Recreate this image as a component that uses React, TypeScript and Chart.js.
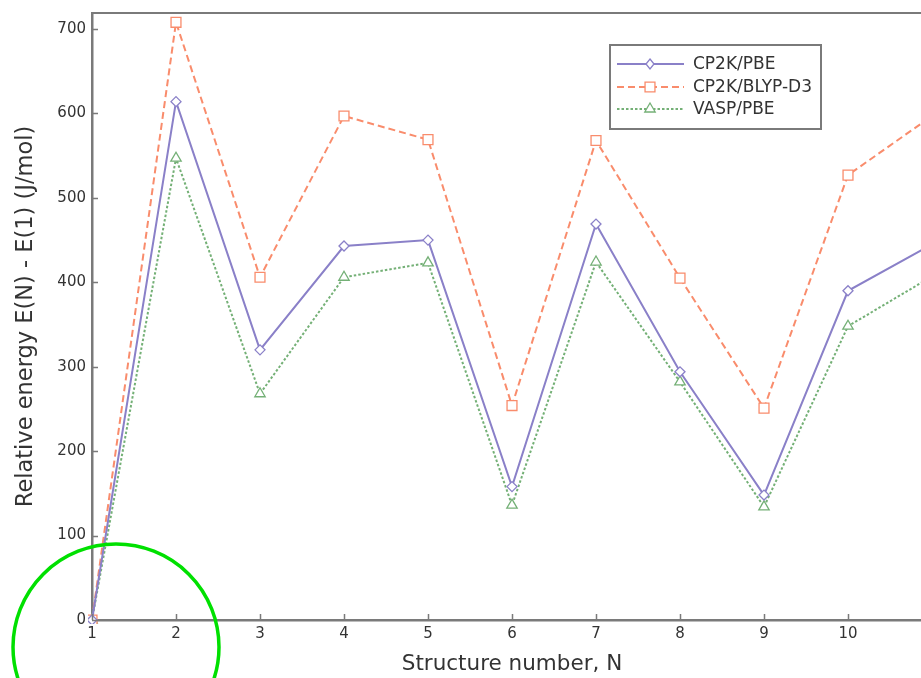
import React, { useEffect, useRef } from "react";
import { Chart, registerables } from "chart.js";
Chart.register(...registerables);

const structures = [1, 2, 3, 4, 5, 6, 7, 8, 9, 10, 11];
const cp2kPbe = [0, 614, 320, 443, 450, 158, 469, 294, 148, 390, 445];
const cp2kBlyp = [0, 708, 406, 597, 569, 254, 568, 405, 251, 527, 597];
const vaspPbe = [0, 547, 268, 406, 423, 136, 424, 282, 134, 348, 407];
const yTicks = [0, 100, 200, 300, 400, 500, 600, 700];
const xTicks = [1, 2, 3, 4, 5, 6, 7, 8, 9, 10, 11];
const seriesNames = ["CP2K/PBE", "CP2K/BLYP-D3", "VASP/PBE"];

const PURPLE = "#8a80c8";
const ORANGE = "#f98c6c";
const GREEN = "#74b076";
const AXIS = "#7a7a7a";
const TEXT = "#333333";
const FONT = "DejaVu Sans";
const SHIFT = 2; // canvas is moved up by this many pixels

const styles = [
  { color: PURPLE, dash: [] as number[], marker: "rectRot", radius: 5 },
  { color: ORANGE, dash: [7, 4], marker: "rect", radius: 7 },
  { color: GREEN, dash: [2.5, 2], marker: "triangle", radius: 6 },
];

function drawMarker(ctx: CanvasRenderingContext2D, kind: string, x: number, y: number, r: number, color: string) {
  ctx.save();
  ctx.setLineDash([]);
  ctx.fillStyle = "#fff";
  ctx.strokeStyle = color;
  ctx.lineWidth = 1.3;
  ctx.beginPath();
  if (kind === "rect") {
    const s = r * Math.SQRT1_2;
    ctx.rect(x - s, y - s, 2 * s, 2 * s);
  } else if (kind === "rectRot") {
    ctx.moveTo(x, y - r);
    ctx.lineTo(x + r * 0.8, y);
    ctx.lineTo(x, y + r);
    ctx.lineTo(x - r * 0.8, y);
    ctx.closePath();
  } else {
    ctx.moveTo(x, y - r);
    ctx.lineTo(x + r * 0.87, y + r * 0.5);
    ctx.lineTo(x - r * 0.87, y + r * 0.5);
    ctx.closePath();
  }
  ctx.fill();
  ctx.stroke();
  ctx.restore();
}

const decor = {
  id: "decor",
  afterDraw(chart: any) {
    const { ctx, chartArea: a, scales } = chart;
    ctx.save();
    // frame top and right
    ctx.strokeStyle = AXIS;
    ctx.lineWidth = 2;
    ctx.beginPath();
    ctx.moveTo(a.left, a.top);
    ctx.lineTo(a.right, a.top);
    ctx.lineTo(a.right, a.bottom);
    ctx.stroke();
    // inward ticks
    ctx.lineWidth = 1.5;
    ctx.beginPath();
    for (const v of yTicks) {
      const py = Math.round(scales.y.getPixelForValue(v)) + 0.5;
      ctx.moveTo(a.left, py);
      ctx.lineTo(a.left + 6, py);
    }
    for (const v of xTicks) {
      const px = Math.round(scales.x.getPixelForValue(v)) + 0.5;
      ctx.moveTo(px, a.bottom);
      ctx.lineTo(px, a.bottom - 6);
    }
    ctx.stroke();

    // legend
    const lx = 610, ly = 45 + SHIFT, lw = 211, lh = 84;
    ctx.fillStyle = "#fff";
    ctx.fillRect(lx, ly, lw, lh);
    ctx.strokeStyle = AXIS;
    ctx.lineWidth = 2;
    ctx.strokeRect(lx, ly, lw, lh);
    const rows = [64, 87, 109];
    seriesNames.forEach((name, i) => {
      const st = styles[i];
      const y = rows[i] + SHIFT;
      ctx.strokeStyle = st.color;
      ctx.lineWidth = 2;
      ctx.setLineDash(st.dash);
      ctx.beginPath();
      ctx.moveTo(617, y);
      ctx.lineTo(684, y);
      ctx.stroke();
      ctx.setLineDash([]);
      drawMarker(ctx, st.marker, 650, y, st.radius, st.color);
      ctx.fillStyle = TEXT;
      ctx.font = `17px "${FONT}"`;
      ctx.textBaseline = "middle";
      ctx.textAlign = "left";
      ctx.fillText(name, 693, y + 1);
    });

    // green highlight circle
    ctx.strokeStyle = "#00e000";
    ctx.lineWidth = 3.5;
    ctx.beginPath();
    ctx.arc(116, 647 + SHIFT, 103, 0, Math.PI * 2);
    ctx.stroke();
    ctx.restore();
  },
};

export default function App() {
  const ref = useRef<HTMLCanvasElement>(null);
  useEffect(() => {
    if (!ref.current) return;
    const series = [cp2kPbe, cp2kBlyp, vaspPbe];
    const chart = new Chart(ref.current, {
      type: "line",
      data: {
        datasets: series.map((vals, i) => ({
          label: seriesNames[i],
          data: structures.map((s, k) => ({ x: s, y: vals[k] })),
          borderColor: styles[i].color,
          borderWidth: 2,
          borderDash: styles[i].dash,
          pointStyle: styles[i].marker as any,
          pointRadius: styles[i].radius,
          pointBorderWidth: 1.3,
          pointBackgroundColor: "#fff",
          pointBorderColor: styles[i].color,
          tension: 0,
          clip: 4,
        })),
      },
      options: {
        responsive: false,
        animation: false,
        events: [],
        layout: { padding: { left: 0, top: 10, right: 28, bottom: 0 } },
        plugins: { legend: { display: false }, tooltip: { enabled: false } },
        scales: {
          x: {
            type: "linear",
            min: 1,
            max: 11,
            afterBuildTicks: (s: any) => {
              s.ticks = xTicks.map((v) => ({ value: v }));
            },
            afterFit: (s: any) => {
              s.height = 58;
            },
            grid: { display: false, drawTicks: false },
            border: { display: true, color: AXIS, width: 2.5 },
            ticks: { color: TEXT, font: { family: FONT, size: 15 }, padding: 5, maxRotation: 0 },
            title: {
              display: true,
              text: "Structure number, N",
              color: TEXT,
              font: { family: FONT, size: 21.5 },
              padding: { top: 0, bottom: 1 },
            },
          },
          y: {
            type: "linear",
            min: 0,
            max: 719,
            afterBuildTicks: (s: any) => {
              s.ticks = yTicks.map((v) => ({ value: v }));
            },
            afterFit: (s: any) => {
              s.width = 92;
            },
            grid: { display: false, drawTicks: false },
            border: { display: true, color: AXIS, width: 2.5 },
            ticks: { color: TEXT, font: { family: FONT, size: 15 }, padding: 6 },
            title: {
              display: true,
              text: "Relative energy E(N) - E(1) (J/mol)",
              color: TEXT,
              font: { family: FONT, size: 22.5 },
              padding: { top: 13, bottom: 0 },
            },
          },
        },
      },
      plugins: [decor],
    });
    return () => chart.destroy();
  }, []);
  return (
    <div
      style={{
        position: "fixed",
        left: 0,
        top: 0,
        width: 921,
        height: 678,
        overflow: "hidden",
        background: "#fff",
      }}
    >
      <canvas
        ref={ref}
        width={960}
        height={678 + SHIFT}
        style={{ display: "block", position: "absolute", left: 0, top: -SHIFT, width: 960, height: 678 + SHIFT }}
      />
    </div>
  );
}
